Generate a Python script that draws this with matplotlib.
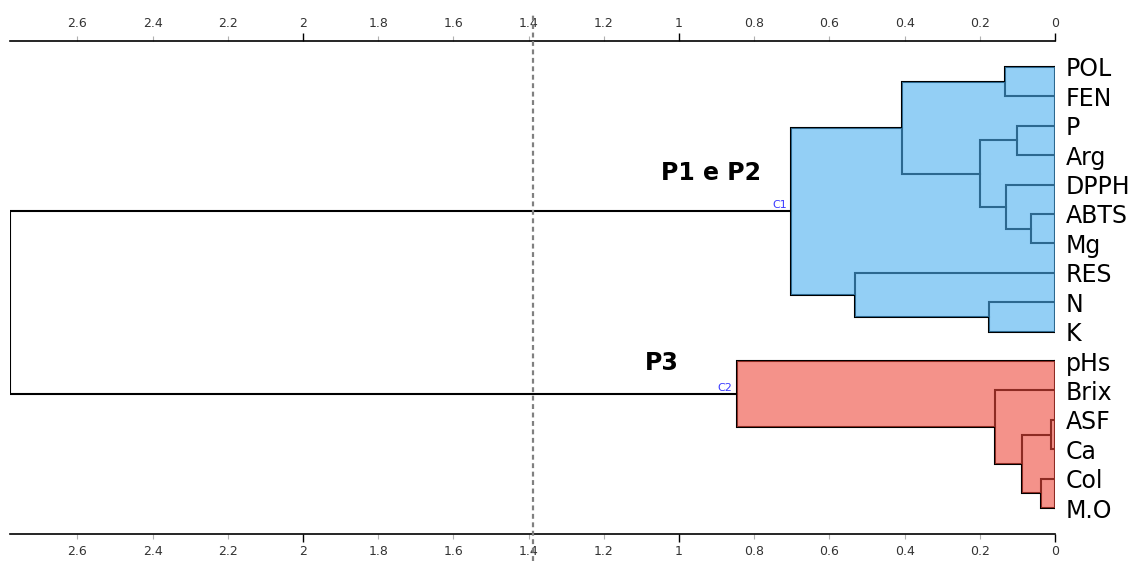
import matplotlib
matplotlib.use("Agg")
import matplotlib.pyplot as plt
import numpy as np

# leaves, top to bottom
leaves = ["POL", "FEN", "P", "Arg", "DPPH", "ABTS", "Mg", "RES", "N", "K",
          "pHs", "Brix", "ASF", "Ca", "Col", "M.O"]

# agglomeration steps: ids < 16 are leaves, ids >= 16 are earlier merges
merge_left = [12, 14, 5, 16, 2, 4, 0, 11, 8, 20, 22, 7, 26, 10, 28]
merge_right = [13, 15, 6, 17, 3, 18, 1, 19, 9, 21, 25, 24, 27, 23, 29]
merge_height = [0.011, 0.037, 0.064, 0.088, 0.101, 0.130, 0.133, 0.160,
                0.176, 0.199, 0.407, 0.532, 0.702, 0.846, 2.779]

cluster_nodes = [28, 29]
cluster_ids = ["C1", "C2"]
cluster_names = ["P1 e P2", "P3"]
cluster_fill = ["#4bafef", "#ed493c"]
truncation = 1.388

n = len(leaves)
pos = list(range(n))
height = [0.0] * n
for a, b, h in zip(merge_left, merge_right, merge_height):
    pos.append((pos[a] + pos[b]) / 2)
    height.append(h)


def merges_under(node):
    if node < n:
        return []
    k = node - n
    return [k] + merges_under(merge_left[k]) + merges_under(merge_right[k])


def leaves_under(node):
    if node < n:
        return [node]
    k = node - n
    return leaves_under(merge_left[k]) + leaves_under(merge_right[k])


fig = plt.figure(figsize=(11.34, 5.64), dpi=100)
ax = fig.add_axes([10 / 1134, 30 / 564, 1045 / 1134, 493 / 564])

# branches
for a, b, h in zip(merge_left, merge_right, merge_height):
    ax.plot([height[a], h, h, height[b]], [pos[a], pos[a], pos[b], pos[b]],
            color="black", lw=1.5, solid_joinstyle="miter", zorder=2)

# shaded cluster envelopes
for node, col in zip(cluster_nodes, cluster_fill):
    rects = []
    for k in merges_under(node):
        ya, yb = sorted([pos[merge_left[k]], pos[merge_right[k]]])
        rects.append((ya, yb, merge_height[k]))
    ys = sorted({r[0] for r in rects} | {r[1] for r in rects})
    ext = []
    for y0, y1 in zip(ys[:-1], ys[1:]):
        mid = (y0 + y1) / 2
        ext.append(max(h for ya, yb, h in rects if ya <= mid <= yb))
    ext.append(ext[-1])
    ax.fill_betweenx(ys, 0, ext, step="post", color=col, alpha=0.6,
                     lw=0, zorder=3)
    lv = leaves_under(node)
    ax.plot([0, 0], [min(lv), max(lv)], color="black", lw=1.5, zorder=2)

for node, cid in zip(cluster_nodes, cluster_ids):
    ax.annotate(cid, (height[node], pos[node]), xytext=(-3, 1),
                textcoords="offset points", ha="right", va="bottom",
                fontsize=8, color="#3a3aff")

ax.text(0.915, 3.6, cluster_names[0], fontsize=17, fontweight="bold",
        ha="center", va="center")
ax.text(1.045, 10.05, cluster_names[1], fontsize=17, fontweight="bold",
        ha="center", va="center")

ax.axvline(truncation, ymin=-0.055, ymax=1.055, clip_on=False,
           color="#808080", lw=1.6, dashes=(2.2, 1.6), zorder=5)

ax.set_xlim(merge_height[-1], 0)
ax.set_ylim(n - 1 + 0.88, -0.88)

# leaf labels on the right
ax.yaxis.tick_right()
ax.set_yticks(range(n))
ax.set_yticklabels(leaves, fontsize=17)
ax.tick_params(axis="y", length=0, pad=8)

# distance scale on top and bottom
major = [0, 1, 2]
minor = [v / 10 for v in range(2, 28, 2) if v % 10 != 0]
ax.set_xticks(major)
ax.set_xticklabels([f"{v:g}" for v in major])
ax.set_xticks(minor, minor=True)
ax.set_xticklabels([f"{v:g}" for v in minor], minor=True)
ax.tick_params(axis="x", which="both", top=True, bottom=True,
               labeltop=True, labelbottom=True, labelsize=9,
               labelcolor="#333333")
ax.tick_params(axis="x", which="major", length=6, width=1, color="black",
               pad=2)
ax.tick_params(axis="x", which="minor", length=3.5, width=0.8,
               color="#b0b0b0", pad=4.5)

for side in ["left", "right"]:
    ax.spines[side].set_visible(False)
for side in ["top", "bottom"]:
    ax.spines[side].set_linewidth(1.2)

fig.savefig("out.png", dpi=100, facecolor="white")
